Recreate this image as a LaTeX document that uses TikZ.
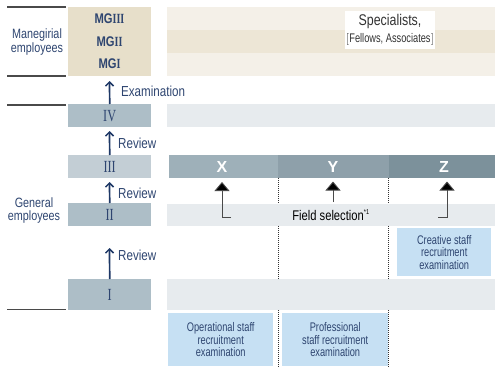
\documentclass[tikz,border=0pt]{standalone}
\usepackage{fontspec}
\setmainfont{Liberation Sans}
\newfontfamily\cnd[FakeStretch=0.8]{Liberation Sans}
\newfontfamily\cndx[FakeStretch=0.74]{Liberation Sans}
\newfontfamily\rom[FakeStretch=0.72]{Liberation Serif}
\usetikzlibrary{arrows.meta}
\definecolor{mgbox}{HTML}{E7DFCA}
\definecolor{stripeA}{HTML}{F4F0E8}
\definecolor{stripeB}{HTML}{EDE6D6}
\definecolor{gdark}{HTML}{ADBEC7}
\definecolor{glight}{HTML}{C3CED5}
\definecolor{rowgrey}{HTML}{E7EBEE}
\definecolor{barX}{HTML}{9EB0B9}
\definecolor{barY}{HTML}{8EA0AA}
\definecolor{barZ}{HTML}{7C919B}
\definecolor{recr}{HTML}{C6E0F3}
\definecolor{navy}{HTML}{2E4570}
\definecolor{arrnavy}{HTML}{1E3866}
\definecolor{rule}{HTML}{4A4A4A}
\definecolor{spec}{HTML}{333333}
\tikzset{
  cell/.style={draw=none, inner sep=0pt, anchor=north west},
  lbl/.style={text=navy, font=\cnd\fontsize{14.5}{13}\selectfont, inner sep=0pt},
  sidelbl/.style={text=navy, font=\cnd\fontsize{13.5}{13.5}\selectfont, inner sep=0pt, align=center},
  rlbl/.style={lbl, anchor=west},
  numtxt/.style={text=navy, font=\rom\fontsize{17}{17}\selectfont, inner sep=0pt},
  mgtxt/.style={text=navy, font=\cnd\bfseries\fontsize{14}{14}\selectfont, inner sep=0pt},
  bartxt/.style={text=white, font=\bfseries\fontsize{16}{16}\selectfont, inner sep=0pt},
  rectxt/.style={text=navy, font=\cndx\fontsize{12.5}{12.5}\selectfont, align=center, inner sep=0pt},
  uparrow/.style={draw=arrnavy, line width=1.7pt, -{Straight Barb[length=4pt,width=8pt,line width=1.5pt]}},
  fsarrow/.style={draw=rule, line width=0.9pt, -{Triangle[length=9pt,width=15pt,fill=black]}},
  sidrule/.style={draw=rule, line width=1.2pt},
  dotline/.style={draw=black!80, line width=0.7pt, dash pattern=on 1pt off 1pt},
}
\begin{document}
\begin{tikzpicture}[x=1pt,y=-1pt]
\useasboundingbox (0,0) rectangle (495,367);
% dotted separators (behind rows)
\coordinate (d1t) at (278,178); \coordinate (d1b) at (278,367);
\coordinate (d2t) at (388.5,178); \coordinate (d2b) at (388.5,367);
\draw[dotline] (d1t) -- (d1b);
\draw[dotline] (d2t) -- (d2b);
% left rules
\coordinate (r1a) at (7,7); \coordinate (r1b) at (66,7);
\coordinate (r2a) at (7,76); \coordinate (r2b) at (66,76);
\coordinate (r3a) at (7,105); \coordinate (r3b) at (66,105);
\coordinate (r4a) at (7,309.5); \coordinate (r4b) at (66,309.5);
\draw[sidrule] (r1a) -- (r1b);
\draw[sidrule] (r2a) -- (r2b);
\draw[sidrule] (r3a) -- (r3b);
\draw[sidrule] (r4a) -- (r4b);
% left labels
\node[sidelbl] (lmg) at (37,42) {Manegirial\\employees};
\node[sidelbl] (lgen) at (34,210.5) {General\\employees};
% managerial stripes
\node[cell, fill=stripeA, minimum width=328, minimum height=23] (s1) at (167,7) {};
\node[cell, fill=stripeB, minimum width=328, minimum height=23] (s2) at (167,30) {};
\node[cell, fill=stripeA, minimum width=328, minimum height=23] (s3) at (167,53) {};
\node[fill=white, minimum width=90, minimum height=38, inner sep=0pt] (specbox) at (390,30) {};
\node[text=spec, font=\cnd\fontsize{15.5}{15}\selectfont, inner sep=0pt] (spec1) at (390,21) {Specialists,};
\node[text=spec, font=\cndx\fontsize{12.5}{12}\selectfont, inner sep=0pt] (spec2) at (390,39.5) {$\left[\vphantom{Fp}\right.$\hspace{-1pt}Fellows, Associates\hspace{-1pt}$\left.\vphantom{Fp}\right]$};
% MG box
\node[cell, fill=mgbox, minimum width=83, minimum height=69] (mg) at (68,7) {};
\node[mgtxt] (mg3) at (109.5,19) {MG{\rom\bfseries III}};
\node[mgtxt] (mg2) at (109.5,42) {MG{\rom\bfseries II}};
\node[mgtxt] (mg1) at (109.5,64) {MG{\rom\bfseries I}};
% general grade boxes
\node[cell, fill=gdark, minimum width=83, minimum height=23] (g4) at (68,104) {};
\node[cell, fill=glight, minimum width=83, minimum height=23] (g3) at (68,155) {};
\node[cell, fill=gdark, minimum width=83, minimum height=23] (g2) at (68,203) {};
\node[cell, fill=gdark, minimum width=83, minimum height=31] (g1) at (68,279) {};
\node[numtxt] at (g4.center) {IV};
\node[numtxt] at (g3.center) {III};
\node[numtxt] at (g2.center) {II};
\node[numtxt] at (g1.center) {I};
% right rows
\node[cell, fill=rowgrey, minimum width=328, minimum height=23] (row4) at (167,104) {};
\node[cell, fill=rowgrey, minimum width=328, minimum height=22] (row2) at (167,204) {};
\node[cell, fill=rowgrey, minimum width=328, minimum height=31] (row1) at (167,279) {};
% bars
\node[cell, fill=barX, minimum width=109, minimum height=23] (bx) at (169,155) {};
\node[cell, fill=barY, minimum width=111, minimum height=23] (by) at (278,155) {};
\node[cell, fill=barZ, minimum width=106, minimum height=23] (bz) at (389,155) {};
\node[bartxt] at (222,166.5) {X};
\node[bartxt] at (333,166.5) {Y};
\node[bartxt] at (444,166.5) {Z};
% recruitment boxes
\node[cell, fill=recr, minimum width=94, minimum height=48] (crea) at (397,228) {};
\node[rectxt] at (crea.center) {Creative staff\\recruitment\\examination};
\node[cell, fill=recr, minimum width=105, minimum height=53] (oper) at (168,313) {};
\node[rectxt] at (oper.center) {Operational staff\\recruitment\\examination};
\node[cell, fill=recr, minimum width=106, minimum height=53] (prof) at (282,313) {};
\node[rectxt] at (prof.center) {Professional\\staff recruitment\\examination};
% field selection
\node[text=black, font=\cnd\fontsize{14}{13}\selectfont, inner sep=0pt] (fs) at (331,215) {Field selection\textsuperscript{\fontsize{7}{7}\selectfont *1}};
\coordinate (xe) at (231,217); \coordinate (xc) at (222,217); \coordinate (xt) at (222,182);
\coordinate (ye) at (333,202); \coordinate (yt) at (333,181.5);
\coordinate (ze) at (438,217); \coordinate (zc) at (447,217); \coordinate (zt) at (447,181.5);
\draw[fsarrow] (xe) -- (xc) -- (xt);
\draw[fsarrow] (ye) -- (yt);
\draw[fsarrow] (ze) -- (zc) -- (zt);
% promotion arrows
\coordinate (a4) at (109.5,81);
\coordinate (a3) at (109.5,131);
\coordinate (a2) at (109.5,182);
\coordinate (a1) at (109.5,248);
\draw[uparrow] (g4.north) -- (a4);
\draw[uparrow] (g3.north) -- (a3);
\draw[uparrow] (g2.north) -- (a2);
\draw[uparrow] (g1.north) -- (a1);
\node[rlbl] (ex) at (121,91) {Examination};
\node[rlbl] (rv3) at (118,143) {Review};
\node[rlbl] (rv2) at (118,193) {Review};
\node[rlbl] (rv1) at (118,255) {Review};
\end{tikzpicture}
\end{document}
